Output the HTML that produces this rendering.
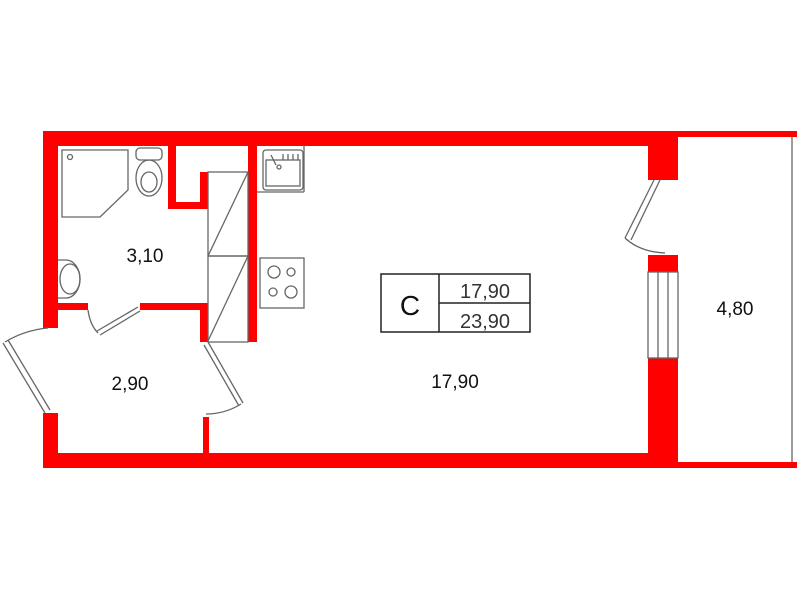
<!DOCTYPE html>
<html><head><meta charset="utf-8"><style>html,body{margin:0;padding:0;background:#fff}svg{display:block}</style></head>
<body>
<svg width="800" height="600" viewBox="0 0 800 600" xmlns="http://www.w3.org/2000/svg" font-family="Liberation Sans, sans-serif">
<rect width="800" height="600" fill="#fff"/>
<g fill="#ff0000">
<!-- top wall -->
<rect x="43" y="131" width="635" height="15"/>
<rect x="678" y="131" width="119" height="6"/>
<!-- left wall -->
<rect x="43" y="131" width="15" height="197"/>
<rect x="43" y="413" width="15" height="55"/>
<!-- bottom wall -->
<rect x="43" y="453" width="635" height="15"/>
<rect x="678" y="462" width="119" height="6"/>
<!-- right piers -->
<rect x="648" y="131" width="30" height="49"/>
<rect x="648" y="255" width="30" height="17"/>
<rect x="648" y="358" width="30" height="110"/>
<!-- bathroom partitions -->
<rect x="168" y="145" width="8" height="64"/>
<rect x="168" y="202" width="40" height="7"/>
<rect x="200" y="172" width="8" height="37"/>
<rect x="248" y="145" width="9" height="197"/>
<rect x="58" y="303" width="30" height="7"/>
<rect x="140" y="303" width="68" height="7"/>
<rect x="200" y="303" width="8" height="39"/>
<rect x="203" y="417" width="6" height="40"/>
</g>
<g fill="none" stroke="#666" stroke-width="1.3">
<!-- balcony -->
<line x1="792" y1="137" x2="792" y2="462"/>
<!-- windows -->
<rect x="648" y="272" width="30" height="86"/>
<line x1="658" y1="272" x2="658" y2="358"/><line x1="668" y1="272" x2="668" y2="358"/>
<!-- balcony door -->
<path d="M654 180 L625 238 M660 180 L631 240"/>
<path d="M625 238 Q640 252 665 253"/>
<!-- cabinets -->
<rect x="208" y="172" width="40" height="84"/>
<rect x="208" y="256" width="40" height="86"/>
<line x1="208" y1="256" x2="248" y2="172"/>
<line x1="208" y1="341" x2="248" y2="256"/>
<!-- bath door -->
<path d="M97 331 L138 307 M100 335 L140 311"/>
<path d="M88 310 Q90 325 98 333"/>
<!-- hall door left -->
<path d="M3 343 L45 413 M8 340 L50 410"/>
<path d="M5 342 Q25 330 48 328"/>
<!-- hall door right -->
<path d="M208 342 L243 403 M204 345 L239 406"/>
<path d="M241 404 Q225 414 206 414"/>
<!-- shower -->
<path d="M62 150 L128 150 L128 190 L100 217 L62 217 Z"/>
<circle cx="70" cy="157" r="2.5"/>
<!-- toilet -->
<rect x="136" y="148" width="26" height="12" rx="4"/>
<ellipse cx="149" cy="178" rx="13" ry="18"/>
<ellipse cx="149" cy="182" rx="8" ry="10"/>
<!-- sink basin -->
<path d="M58 260 L66 260 A14 19 0 0 1 66 298 L58 298"/>
<ellipse cx="70" cy="279" rx="10" ry="15"/>
<!-- kitchen sink -->
<rect x="263" y="150" width="40" height="40" rx="3"/>
<rect x="266" y="160" width="34" height="26"/>
<line x1="271" y1="155" x2="276" y2="165"/>
<circle cx="279" cy="167" r="2"/>
<line x1="283" y1="154" x2="283" y2="160"/><line x1="288" y1="154" x2="288" y2="160"/><line x1="293" y1="154" x2="293" y2="160"/><line x1="298" y1="154" x2="298" y2="160"/>
<line x1="257" y1="192" x2="304" y2="192"/><line x1="304" y1="145" x2="304" y2="192"/>
<!-- stove -->
<rect x="260" y="258" width="44" height="50"/>
<circle cx="274" cy="272" r="6"/><circle cx="291" cy="272" r="4"/>
<circle cx="273" cy="292" r="4"/><circle cx="291" cy="292" r="6"/>
</g>
<!-- label box -->
<g fill="none" stroke="#222" stroke-width="1.5">
<rect x="381" y="274" width="149" height="58"/>
<line x1="439" y1="274" x2="439" y2="332"/>
<line x1="439" y1="303" x2="530" y2="303"/>
</g>
<g fill="#111" text-anchor="middle">
<text x="410" y="315" font-size="28">C</text>
<text x="485" y="298" font-size="20" fill="#333">17,90</text>
<text x="485" y="328" font-size="20" fill="#333">23,90</text>
<text x="455" y="388" font-size="19">17,90</text>
<text x="145" y="262" font-size="19">3,10</text>
<text x="130" y="390" font-size="19">2,90</text>
<text x="735" y="315" font-size="19">4,80</text>
</g>
</svg>
</body></html>
